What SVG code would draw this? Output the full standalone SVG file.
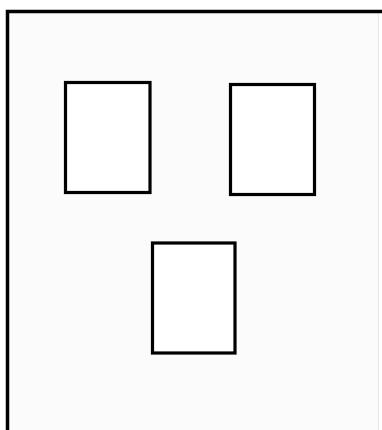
<svg xmlns="http://www.w3.org/2000/svg" width="382" height="430" viewBox="0 0 382 430">
<style>
.box{fill:#ffffff;stroke:#000000;stroke-width:3.2}
</style>
<rect x="0" y="0" width="382" height="430" fill="#ffffff"/>
<g id="frame">
<rect x="8" y="12" width="371" height="420" fill="#fbfbfb"/>
<line x1="378.5" y1="12" x2="378.5" y2="430" stroke="#e6e6e6" stroke-width="1"/>
<path d="M7.5,430 V11.5 H382" fill="none" stroke="#000000" stroke-width="3.5"/>
</g>
<g id="box1"><rect class="box" x="65.5" y="82.5" width="84.5" height="110"/></g>
<g id="box2"><rect class="box" x="230.5" y="84.5" width="84" height="110"/></g>
<g id="box3"><rect class="box" x="152.5" y="243" width="82.5" height="110"/></g>
<g id="connectors"></g>
</svg>
